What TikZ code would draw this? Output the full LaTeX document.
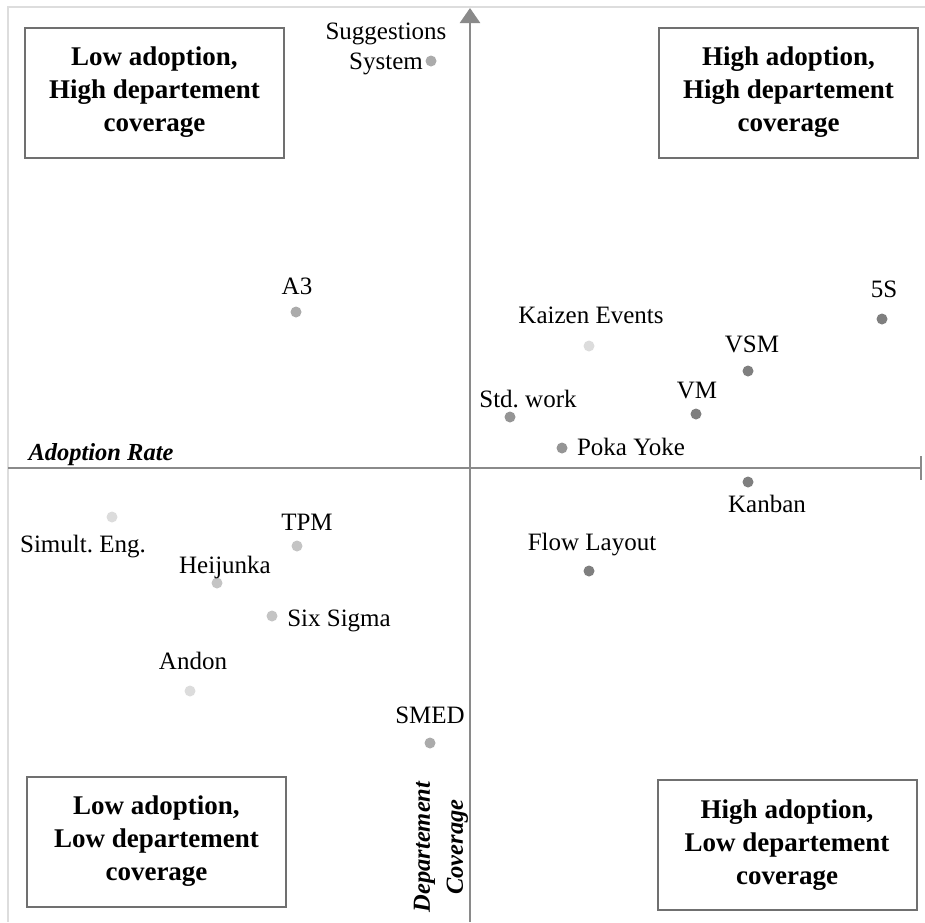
\documentclass[tikz,border=0pt]{standalone}
\usepackage{fontspec}
\setmainfont{Liberation Serif}
\usetikzlibrary{arrows.meta}
\frenchspacing
\definecolor{framegray}{HTML}{DDDDDD}
\definecolor{axisgray}{HTML}{8A8A8A}
\definecolor{boxgray}{HTML}{707070}
\definecolor{dotA}{HTML}{7F7F7F}
\definecolor{dotB}{HTML}{959595}
\definecolor{dotC}{HTML}{ABABAB}
\definecolor{dotD}{HTML}{C4C4C4}
\definecolor{dotE}{HTML}{DCDCDC}

\begin{document}
\begin{tikzpicture}[x=1pt,y=-1pt,
  dot/.style={circle,inner sep=0pt,minimum size=11pt},
  lbl/.style={inner sep=0pt,anchor=base,font=\fontsize{25}{30}\selectfont},
  quad/.style={draw=boxgray,line width=2pt,align=center,minimum width=259pt,
    minimum height=130pt,font=\bfseries\fontsize{27}{33}\selectfont},
  axlbl/.style={inner sep=0pt,font=\bfseries\itshape\fontsize{24.5}{33}\selectfont}]
  \useasboundingbox (0,0) rectangle (925,922);
  % outer frame (top and left only)
  \draw[framegray,line width=2pt] (925,7) -- (8,7) -- (8,922);
  % axes
  \coordinate (xl) at (8,468);
  \coordinate (xr) at (922,468);
  \coordinate (yb) at (470,922);
  \coordinate (yt) at (470,8);
  \draw[axisgray,line width=2.5pt,-{Bar[width=24pt]}] (xl) -- (xr);
  \draw[axisgray,line width=2.5pt,-{Triangle[width=20pt,length=15pt]}] (yb) -- (yt);
  \node[axlbl,anchor=base] (adopt) at (101,460) {Adoption Rate};
  \node[axlbl,rotate=90,align=center] (cover) at (441,847) {Departement\\Coverage};
  % quadrant boxes
  \node[quad] (lowhigh) at (154.5,92.5) {Low adoption,\\High departement\\coverage};
  \node[quad] (highhigh) at (788.5,92.5) {High adoption,\\High departement\\coverage};
  \node[quad] (lowlow) at (156.5,841.5) {Low adoption,\\Low departement\\coverage};
  \node[quad] (highlow) at (787,845) {High adoption,\\Low departement\\coverage};
  % tools
  \node[dot,fill=dotC] (sugg) at (431,61) {};
  \node[lbl,anchor=center,align=center] (suggl) at (386,49) {Suggestions\\System};
  \node[dot,fill=dotC] (athree) at (296,312) {};
  \node[lbl] (athreel) at (297,294) {A3};
  \node[dot,fill=dotA] (fives) at (882,319) {};
  \node[lbl] (fivesl) at (884,297) {5S};
  \node[dot,fill=dotE] (kaizen) at (589,346) {};
  \node[lbl] (kaizenl) at (591,323) {Kaizen Events};
  \node[dot,fill=dotA] (vsm) at (748,371) {};
  \node[lbl] (vsml) at (752,352) {VSM};
  \node[dot,fill=dotA] (vm) at (696,414) {};
  \node[lbl] (vml) at (697,398) {VM};
  \node[dot,fill=dotB] (std) at (510,417) {};
  \node[lbl] (stdl) at (528,407) {Std. work};
  \node[dot,fill=dotB] (poka) at (562,448) {};
  \node[lbl] (pokal) at (631,455) {Poka Yoke};
  \node[dot,fill=dotA] (kanban) at (748,482) {};
  \node[lbl] (kanbanl) at (767,512) {Kanban};
  \node[dot,fill=dotA] (flow) at (589,571) {};
  \node[lbl] (flowl) at (592,550) {Flow Layout};
  \node[dot,fill=dotE] (simult) at (112,517) {};
  \node[lbl] (simultl) at (83,552) {Simult. Eng.};
  \node[dot,fill=dotD] (tpm) at (297,546) {};
  \node[lbl] (tpml) at (307,530) {TPM};
  \node[dot,fill=dotD] (heij) at (217,583) {};
  \node[lbl] (heijl) at (225,573) {Heijunka};
  \node[dot,fill=dotD] (six) at (272,616) {};
  \node[lbl] (sixl) at (339,626) {Six Sigma};
  \node[dot,fill=dotE] (andon) at (190,691) {};
  \node[lbl] (andonl) at (193,669) {Andon};
  \node[dot,fill=dotC] (smed) at (430,743) {};
  \node[lbl] (smedl) at (430,723) {SMED};
\end{tikzpicture}
\end{document}
